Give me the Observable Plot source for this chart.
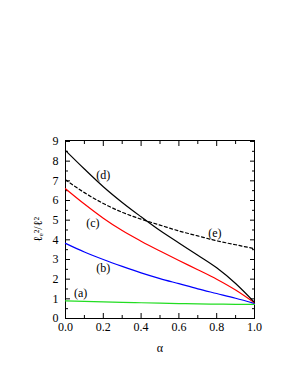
<!DOCTYPE html>
<html><head><meta charset="utf-8">
<script src="https://cdn.jsdelivr.net/npm/d3@7"></script>
<script src="https://cdn.jsdelivr.net/npm/@observablehq/plot@0.6"></script>
<style>
body{margin:0;background:#fff;} #c{width:291px;height:376px;}
#c svg text{font-family:"Liberation Serif","Times New Roman",serif;}
</style>
</head><body><div id="c"></div>
<script>
const alpha = [0, 0.1, 0.2, 0.3, 0.4, 0.5, 0.6, 0.7, 0.8, 0.9, 1.0];
const seriesA = [0.90, 0.87, 0.85, 0.82, 0.80, 0.78, 0.76, 0.74, 0.73, 0.72, 0.72];
const seriesB = [3.82, 3.38, 3.00, 2.65, 2.32, 2.03, 1.77, 1.51, 1.27, 1.03, 0.77];
const seriesC = [6.60, 5.82, 5.10, 4.47, 3.93, 3.43, 2.95, 2.48, 2.00, 1.45, 0.80];
const seriesD = [8.54, 7.60, 6.70, 5.90, 5.17, 4.47, 3.84, 3.22, 2.58, 1.78, 0.82];
const seriesE = [7.05, 6.40, 5.85, 5.40, 5.05, 4.75, 4.45, 4.20, 3.95, 3.75, 3.55];
const seriesNames = ["(a)", "(b)", "(c)", "(d)", "(e)"];
const labelAlpha = [0.08, 0.20, 0.145, 0.20, 0.79];
const labelValue = [1.27, 2.55, 4.87, 7.27, 4.35];
const xTicks = [0, 0.2, 0.4, 0.6, 0.8, 1.0];
const xMinor = [0.1, 0.3, 0.5, 0.7, 0.9];
const yTicks = [0, 1, 2, 3, 4, 5, 6, 7, 8, 9];
const yMinor = [0.5, 1.5, 2.5, 3.5, 4.5, 5.5, 6.5, 7.5, 8.5];

const all = [seriesA, seriesB, seriesC, seriesD, seriesE];
const colors = ["#22dd22", "#0000ff", "#ff0000", "#000000", "#000000"];
const rows = [];
all.forEach((s, k) => s.forEach((v, i) => rows.push({a: alpha[i], v, s: seriesNames[k]})));
const labels = seriesNames.map((n, k) => ({n, a: labelAlpha[k], v: labelValue[k]}));

const font = "Liberation Serif";
const chart = Plot.plot({
  width: 291, height: 376,
  marginLeft: 65, marginRight: 37, marginTop: 140, marginBottom: 58,
  style: {fontFamily: font, fontSize: "12px", color: "#000", background: "#fff"},
  x: {domain: [0, 1]},
  y: {domain: [0, 9.05]},
  marks: [
    Plot.frame({stroke: "#000", strokeWidth: 1}),
    Plot.axisX({ticks: xTicks, tickSize: 0, tickPadding: 4, tickFormat: d3.format(".1f"), fontSize: 12,
      label: "α", labelAnchor: "center", labelArrow: "none", labelOffset: 33}),
    Plot.axisX({ticks: xTicks, tickSize: -5, tickFormat: () => "", label: null}),
    Plot.axisX({ticks: xMinor, tickSize: -3, tickFormat: () => "", label: null}),
    Plot.axisX({anchor: "top", ticks: xTicks, tickSize: -5, tickFormat: () => "", label: null}),
    Plot.axisX({anchor: "top", ticks: xMinor, tickSize: -3, tickFormat: () => "", label: null}),
    Plot.axisY({ticks: yTicks, tickSize: 0, tickPadding: 7, tickFormat: d3.format("d"), fontSize: 12,
      label: "ℓₑ²/ℓ²", labelAnchor: "center", labelArrow: "none", labelOffset: 32}),
    Plot.axisY({ticks: yTicks, tickSize: -5, tickFormat: () => "", label: null}),
    Plot.axisY({ticks: yMinor, tickSize: -3, tickFormat: () => "", label: null}),
    Plot.axisY({anchor: "right", ticks: yTicks, tickSize: -5, tickFormat: () => "", label: null}),
    Plot.axisY({anchor: "right", ticks: yMinor, tickSize: -3, tickFormat: () => "", label: null}),
    ...seriesNames.map((n, k) => Plot.line(rows.filter(d => d.s === n), {
      x: "a", y: "v", stroke: colors[k], strokeWidth: 1.2, curve: "monotone-x",
      strokeDasharray: n === "(e)" ? "3,2.5" : null
    })),
    Plot.text(labels, {x: "a", y: "v", text: "n", fontSize: 12, fill: "#000"})
  ]
});
document.getElementById("c").appendChild(chart);
</script></body></html>
